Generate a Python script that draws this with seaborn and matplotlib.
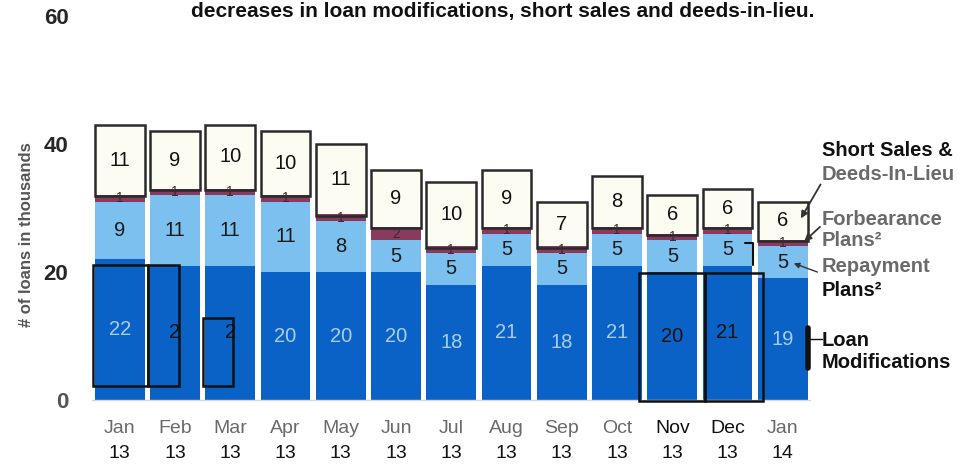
import matplotlib
matplotlib.use("Agg")
import matplotlib.pyplot as plt
from matplotlib.patches import Rectangle
import numpy as np
import pandas as pd
import seaborn as sns

# Monthly loss-mitigation activity (thousands of loans)
months = ["Jan", "Feb", "Mar", "Apr", "May", "Jun", "Jul",
          "Aug", "Sep", "Oct", "Nov", "Dec", "Jan"]
years = ["13", "13", "13", "13", "13", "13", "13",
         "13", "13", "13", "13", "13", "14"]
loan_mods = [22, 21, 21, 20, 20, 20, 18, 21, 18, 21, 20, 21, 19]
repayment = [9, 11, 11, 11, 8, 5, 5, 5, 5, 5, 5, 5, 5]
forbearance = [1, 1, 1, 1, 1, 2, 1, 1, 1, 1, 1, 1, 1]
short_sales = [11, 9, 10, 10, 11, 9, 10, 9, 7, 8, 6, 6, 6]

# Loan-modification values shown in black and boxed for review
loan_label_text = ["22", "2", "2", "20", "20", "20", "18",
                   "21", "18", "21", "20", "21", "19"]
review_months = [1, 2, 10, 11]
# Review boxes: (left, right, bottom, top) in bar/value units
review_boxes = [(-0.49, 0.51, 2.2, 21.1), (0.51, 1.07, 2.2, 21.1),
                (1.50, 2.06, 2.2, 12.8), (9.39, 10.59, -0.15, 19.8),
                (10.59, 11.64, -0.15, 19.8)]

C_LOAN = "#0b62c6"
C_REPAY = "#7cc0f0"
C_FORB = "#8a3a5c"
C_SHORT = "#fdfcf2"
BAR_W = 0.9

x_keys = [f"{m} {y} #{i}" for i, (m, y) in enumerate(zip(months, years))]
df = pd.DataFrame({
    "month": x_keys,
    "loan": loan_mods,
    "repay": repayment,
    "forb": forbearance,
    "short": short_sales,
})
df["c_loan"] = df["loan"]
df["c_repay"] = df["c_loan"] + df["repay"]
df["c_forb"] = df["c_repay"] + df["forb"]
df["c_short"] = df["c_forb"] + df["short"]

sns.set_theme(style="white")
plt.rcParams["font.family"] = ["Liberation Sans", "DejaVu Sans"]

fig = plt.figure(figsize=(9.79, 4.66), dpi=100)
ax = fig.add_axes([92 / 979, 66 / 466, 718.5 / 979, 384 / 466])

# Stacked bars drawn as overlapping cumulative totals, tallest first
sns.barplot(data=df, x="month", y="c_short", color=C_SHORT, width=BAR_W,
            saturation=1, linewidth=0, ax=ax)
sns.barplot(data=df, x="month", y="c_forb", color=C_FORB, width=BAR_W,
            saturation=1, linewidth=0, ax=ax)
sns.barplot(data=df, x="month", y="c_repay", color=C_REPAY, width=BAR_W,
            saturation=1, linewidth=0, ax=ax)
sns.barplot(data=df, x="month", y="c_loan", color=C_LOAN, width=BAR_W,
            saturation=1, linewidth=0, ax=ax)

# Dark frame around each short-sales segment
for i in range(len(months)):
    ax.add_patch(Rectangle((i - BAR_W / 2, df["c_forb"][i] - 0.2), BAR_W,
                           short_sales[i] + 0.2, fill=False,
                           edgecolor="#2a2a2a", linewidth=1.8, zorder=4))

ax.set_xlim(-0.5, 12.5)
ax.set_ylim(0, 60)
ax.set_yticks([0, 20, 40, 60])
ax.set_yticklabels(["0", "20", "40", "60"], fontsize=16, fontweight="bold")
ax.get_yticklabels()[0].set_color("#555555")
ax.tick_params(axis="y", length=0, pad=17)
ax.set_xlabel("")
ax.set_ylabel("")
for s in ["top", "right", "left"]:
    ax.spines[s].set_visible(False)
ax.spines["bottom"].set_color("#d8d8d8")
ax.spines["bottom"].set_linewidth(1.0)

# Two-line month/year tick labels
ax.set_xticks(range(len(months)))
ax.set_xticklabels([""] * len(months))
ax.tick_params(axis="x", length=0)
for i, (m, y) in enumerate(zip(months, years)):
    mcol = "#111111" if i in (10, 11) else "#6a6a6a"
    ax.text(i, -4.5, m, ha="center", va="center", fontsize=14, color=mcol)
    ax.text(i, -8.4, y, ha="center", va="center", fontsize=14, color="#111111")

# Segment value labels
for i in range(len(months)):
    lcol = "#111111" if i in review_months else "#a9cdee"
    ax.text(i, loan_mods[i] / 2, loan_label_text[i], ha="center", va="center",
            fontsize=14.5, color=lcol, zorder=6)
    ax.text(i, loan_mods[i] + repayment[i] / 2, str(repayment[i]),
            ha="center", va="center", fontsize=14.5, color="#1a1a1a", zorder=6)
    ax.text(i, df["c_repay"][i] + forbearance[i] / 2, str(forbearance[i]),
            ha="center", va="center", fontsize=10, color="#3a2a30", zorder=6)
    ax.text(i, df["c_forb"][i] + short_sales[i] / 2, str(short_sales[i]),
            ha="center", va="center", fontsize=14.5, color="#111111", zorder=6)

# Review boxes
for left, right, bottom, top in review_boxes:
    ax.add_patch(Rectangle((left, bottom), right - left, top - bottom,
                           fill=False, edgecolor="#111111", linewidth=1.8,
                           clip_on=False, zorder=5))
# Small corner mark beside the December repayment value
fig.add_artist(plt.Line2D([745 / 979, 753 / 979, 753 / 979],
                          [1 - 243 / 466, 1 - 243 / 466, 1 - 265 / 466],
                          color="#111111", lw=1.5))

# Series call-outs on the right
lx = 822 / 979
fs = 14.5
fig.text(lx, 1 - 150 / 466, "Short Sales &", fontsize=fs, fontweight="bold",
         color="#111111", va="center")
fig.text(lx, 1 - 174 / 466, "Deeds-In-Lieu", fontsize=fs, fontweight="bold",
         color="#6a6a6a", va="center")
fig.text(lx, 1 - 219 / 466, "Forbearance", fontsize=fs, fontweight="bold",
         color="#6a6a6a", va="center")
fig.text(lx, 1 - 240 / 466, "Plans²", fontsize=fs, fontweight="bold",
         color="#6a6a6a", va="center")
fig.text(lx, 1 - 267 / 466, "Repayment", fontsize=fs, fontweight="bold",
         color="#6a6a6a", va="center")
fig.text(lx, 1 - 290 / 466, "Plans²", fontsize=fs, fontweight="bold",
         color="#111111", va="center")
fig.text(lx, 1 - 340 / 466, "Loan", fontsize=fs, fontweight="bold",
         color="#111111", va="center")
fig.text(lx, 1 - 363 / 466, "Modifications", fontsize=fs, fontweight="bold",
         color="#111111", va="center")

last = len(months) - 1
arrow = dict(arrowstyle="-|>", color="#333333", lw=1.3, mutation_scale=10)
ax.annotate("", xy=(last + 0.3, df["c_forb"][last] + 3),
            xytext=(822 / 979, 1 - 182 / 466), textcoords="figure fraction",
            arrowprops=arrow, zorder=7)
ax.annotate("", xy=(last + 0.35, df["c_repay"][last] + 0.5),
            xytext=(822 / 979, 1 - 225 / 466), textcoords="figure fraction",
            arrowprops=arrow, zorder=7)
ax.annotate("", xy=(last + 0.15, loan_mods[last] + repayment[last] / 2),
            xytext=(820 / 979, 1 - 273 / 466), textcoords="figure fraction",
            arrowprops=dict(arrowstyle="-|>", color="#333333", lw=1.0,
                            mutation_scale=8), zorder=7)
# Bracket for the loan-modification call-out
fig.add_artist(plt.Line2D([808 / 979, 808 / 979], [1 - 328 / 466, 1 - 368 / 466],
                          color="#111111", lw=4))
fig.add_artist(plt.Line2D([808 / 979, 822 / 979], [1 - 339 / 466, 1 - 339 / 466],
                          color="#111111", lw=1))

# Y-axis title and chart heading
fig.text(27 / 979, 1 - 235 / 466, "# of loans in thousands", rotation=90,
         fontsize=12, fontweight="bold", color="#555555", ha="center", va="center")
fig.text(503 / 979, 1 - 11 / 466,
         "decreases in loan modifications, short sales and deeds-in-lieu.",
         fontsize=15, fontweight="bold", color="#111111", ha="center", va="center")

fig.savefig("out.png", dpi=100, facecolor="white")
